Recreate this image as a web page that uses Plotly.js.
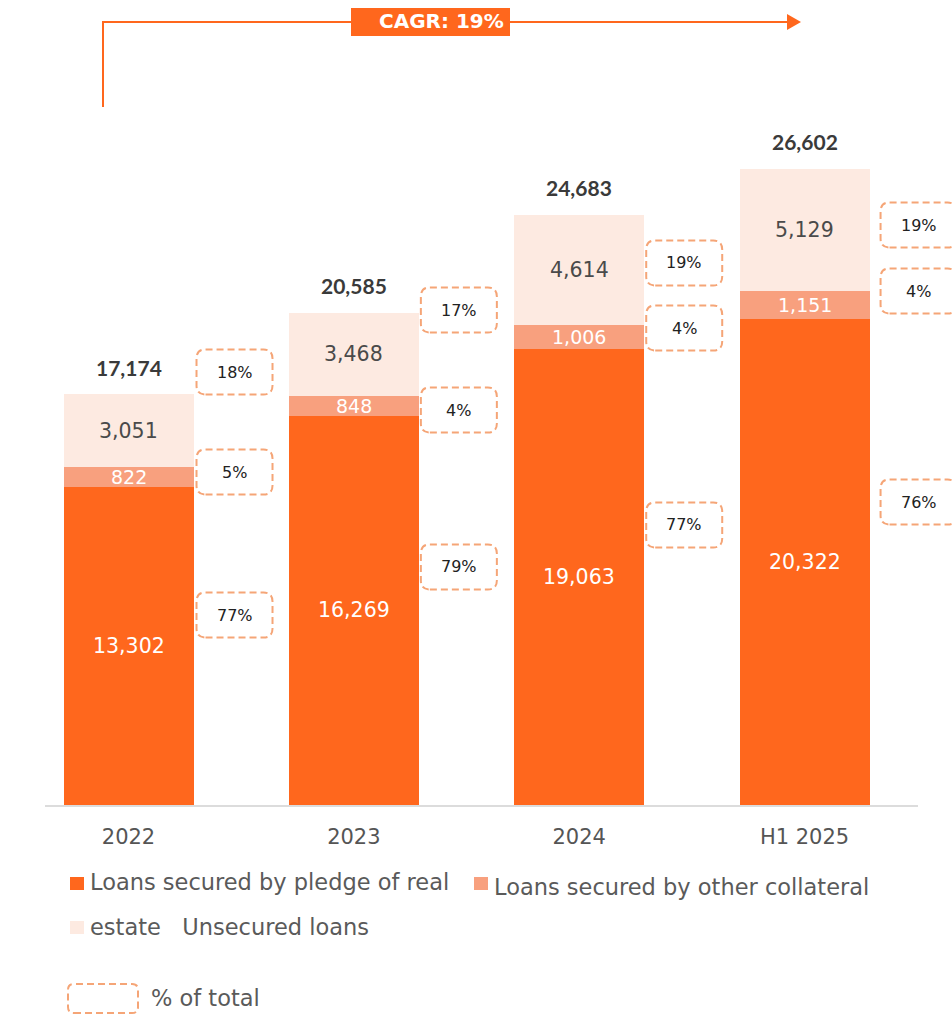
<!DOCTYPE html>
<html>
<head>
<meta charset="utf-8">
<script src="https://cdn.plot.ly/plotly-3.0.1.min.js"></script>
<style>html,body{margin:0;padding:0;background:#fff;}#chart{width:952px;height:1016px;}</style>
</head>
<body>
<div id="chart"></div>
<script>
// ---- data ----
var categories = ['2022', '2023', '2024', 'H1 2025'];
var pledge = [13302, 16269, 19063, 20322];
var otherCollateral = [822, 848, 1006, 1151];
var unsecured = [3051, 3468, 4614, 5129];
var totals = [17174, 20585, 24683, 26602];
var pctPledge = ['77%', '79%', '77%', '76%'];
var pctOther = ['5%', '4%', '4%', '4%'];
var pctUnsecured = ['18%', '17%', '19%', '19%'];
var cagrText = 'CAGR: 19%';
var seriesNames = ['Loans secured by pledge of real estate', 'Loans secured by other collateral', 'Unsecured loans'];

// ---- layout helpers (positions only) ----
var W = 952, H = 1016;
var mL = 45, mR = 34, mT = 100, mB = 211;
var pw = W - mL - mR, ph = H - mT - mB;
var XR = [-0.3706, 3.5034], YMAX = 29473;
function px(x) { return (x - mL) / pw; }
function py(y) { return (H - mB - y) / ph; }
function catPaper(i) { return (i - XR[0]) / (XR[1] - XR[0]); }
// y positions (data units) of the % boxes, per category
var boxYPledge = [7943, 9950, 11706, 12667];
var boxYOther = [13921, 16513, 19941, 21488];
var boxYUnsec = [18102, 20694, 22659, 24247];
var boxDx = [106, 105, 105, 114];

var C1 = '#FF671D', C2 = '#F8A07E', C3 = '#FDEAE1', CB = '#F5A577';
var FONT = '"DejaVu Sans", sans-serif';
var BFONT = 'Lato, sans-serif';
var DASH = '7px,4px';

var traces = [
  {type: 'bar', x: categories, y: pledge, name: seriesNames[0], marker: {color: C1}, width: 0.577, hoverinfo: 'none'},
  {type: 'bar', x: categories, y: otherCollateral, name: seriesNames[1], marker: {color: C2}, width: 0.577, hoverinfo: 'none'},
  {type: 'bar', x: categories, y: unsecured, name: seriesNames[2], marker: {color: C3}, width: 0.577, hoverinfo: 'none'}
];

var annotations = [];
var shapes = [];

function fmt(v) { return v.toLocaleString('en-US'); }

function roundRect(dx, w, h, r) {
  var x0 = dx - w / 2, x1 = dx + w / 2, y0 = -h / 2, y1 = h / 2;
  return 'M' + (x0 + r) + ',' + y0 + ' L' + (x1 - r) + ',' + y0 + ' Q' + x1 + ',' + y0 + ' ' + x1 + ',' + (y0 + r) +
    ' L' + x1 + ',' + (y1 - r) + ' Q' + x1 + ',' + y1 + ' ' + (x1 - r) + ',' + y1 +
    ' L' + (x0 + r) + ',' + y1 + ' Q' + x0 + ',' + y1 + ' ' + x0 + ',' + (y1 - r) +
    ' L' + x0 + ',' + (y0 + r) + ' Q' + x0 + ',' + y0 + ' ' + (x0 + r) + ',' + y0 + ' Z';
}

function ann(o) {
  o.showarrow = false;
  if (!o.xanchor) o.xanchor = 'center';
  if (!o.yanchor) o.yanchor = 'middle';
  annotations.push(o);
}

for (var i = 0; i < categories.length; i++) {
  // segment labels
  ann({x: i, y: pledge[i] / 2, xref: 'x', yref: 'y', text: fmt(pledge[i]),
    font: {family: FONT, size: 20.5, color: '#ffffff'}});
  ann({x: i, y: pledge[i] + otherCollateral[i] / 2, xref: 'x', yref: 'y', text: fmt(otherCollateral[i]),
    font: {family: FONT, size: 19, color: '#ffffff'}});
  ann({x: i, y: pledge[i] + otherCollateral[i] + unsecured[i] / 2, xref: 'x', yref: 'y', text: fmt(unsecured[i]),
    font: {family: FONT, size: 20.5, color: '#4a4a4a'}});
  // totals
  ann({x: i, y: totals[i], xref: 'x', yref: 'y', yshift: 27, text: '<b>' + fmt(totals[i]) + '</b>',
    font: {family: BFONT, size: 21, color: '#3a3a3a'}});
  // % boxes
  var sets = [[boxYPledge[i], pctPledge[i]], [boxYOther[i], pctOther[i]], [boxYUnsec[i], pctUnsecured[i]]];
  sets.forEach(function (s) {
    shapes.push({type: 'path', xref: 'paper', yref: 'paper', xsizemode: 'pixel', ysizemode: 'pixel',
      xanchor: catPaper(i), yanchor: s[0] / YMAX,
      path: roundRect(boxDx[i], 76, 45, 9), line: {color: CB, width: 2, dash: DASH}, fillcolor: 'rgba(0,0,0,0)', layer: 'above'});
    ann({x: i, y: s[0], xref: 'x', yref: 'y', xshift: boxDx[i], text: s[1],
      font: {family: FONT, size: 16, color: '#222222'}});
  });
}

// CAGR arrow
shapes.push({type: 'line', xref: 'paper', yref: 'paper', x0: px(103), x1: px(103), y0: py(22), y1: py(107), line: {color: C1, width: 2}});
shapes.push({type: 'line', xref: 'paper', yref: 'paper', x0: px(102), x1: px(790), y0: py(22), y1: py(22), line: {color: C1, width: 2}});
shapes.push({type: 'path', xref: 'paper', yref: 'paper',
  path: 'M' + px(787) + ',' + py(14) + ' L' + px(801) + ',' + py(22) + ' L' + px(787) + ',' + py(30) + ' Z',
  fillcolor: C1, line: {color: C1, width: 0}});
shapes.push({type: 'rect', xref: 'paper', yref: 'paper', x0: px(351), x1: px(510), y0: py(36), y1: py(8), fillcolor: C1, line: {width: 0}});
ann({xref: 'paper', yref: 'paper', x: px(441), y: py(21), text: '<b>' + cagrText + '</b>',
  font: {family: FONT, size: 20, color: '#ffffff'}});

// custom legend
var LF = {family: FONT, size: 22.5, color: '#5a5a5a'};
shapes.push({type: 'rect', xref: 'paper', yref: 'paper', x0: px(70), x1: px(84), y0: py(890), y1: py(877), fillcolor: C1, line: {width: 0}});
ann({xref: 'paper', yref: 'paper', x: px(88), y: py(882), xanchor: 'left', text: 'Loans secured by pledge of real', font: LF});
shapes.push({type: 'rect', xref: 'paper', yref: 'paper', x0: px(474), x1: px(488), y0: py(890), y1: py(877), fillcolor: C2, line: {width: 0}});
ann({xref: 'paper', yref: 'paper', x: px(492), y: py(887), xanchor: 'left', text: 'Loans secured by other collateral', font: LF});
shapes.push({type: 'rect', xref: 'paper', yref: 'paper', x0: px(70), x1: px(84), y0: py(934), y1: py(921), fillcolor: C3, line: {width: 0}});
ann({xref: 'paper', yref: 'paper', x: px(88), y: py(927), xanchor: 'left', text: 'estate&nbsp;&nbsp;&nbsp;Unsecured loans', font: LF});
shapes.push({type: 'path', xref: 'paper', yref: 'paper', xsizemode: 'pixel', ysizemode: 'pixel', xanchor: px(103), yanchor: py(998.5),
  path: roundRect(0, 70, 29, 6), line: {color: CB, width: 2, dash: DASH}, fillcolor: 'rgba(0,0,0,0)'});
ann({xref: 'paper', yref: 'paper', x: px(149), y: py(998), xanchor: 'left', text: '% of total', font: LF});

var layout = {
  width: W, height: H,
  margin: {l: mL, r: mR, t: mT, b: mB},
  paper_bgcolor: '#ffffff', plot_bgcolor: '#ffffff',
  barmode: 'stack',
  showlegend: false,
  font: {family: FONT},
  xaxis: {type: 'category', range: XR, showgrid: false, zeroline: false, showline: true,
    linecolor: '#dcdcdc', linewidth: 2, ticks: '', ticklabelstandoff: 12,
    tickfont: {family: FONT, size: 21, color: '#555555'}, fixedrange: true},
  yaxis: {range: [0, YMAX], visible: false, showgrid: false, zeroline: false, fixedrange: true},
  annotations: annotations,
  shapes: shapes
};

Plotly.newPlot('chart', traces, layout, {displayModeBar: false, staticPlot: true});
</script>
</body>
</html>
